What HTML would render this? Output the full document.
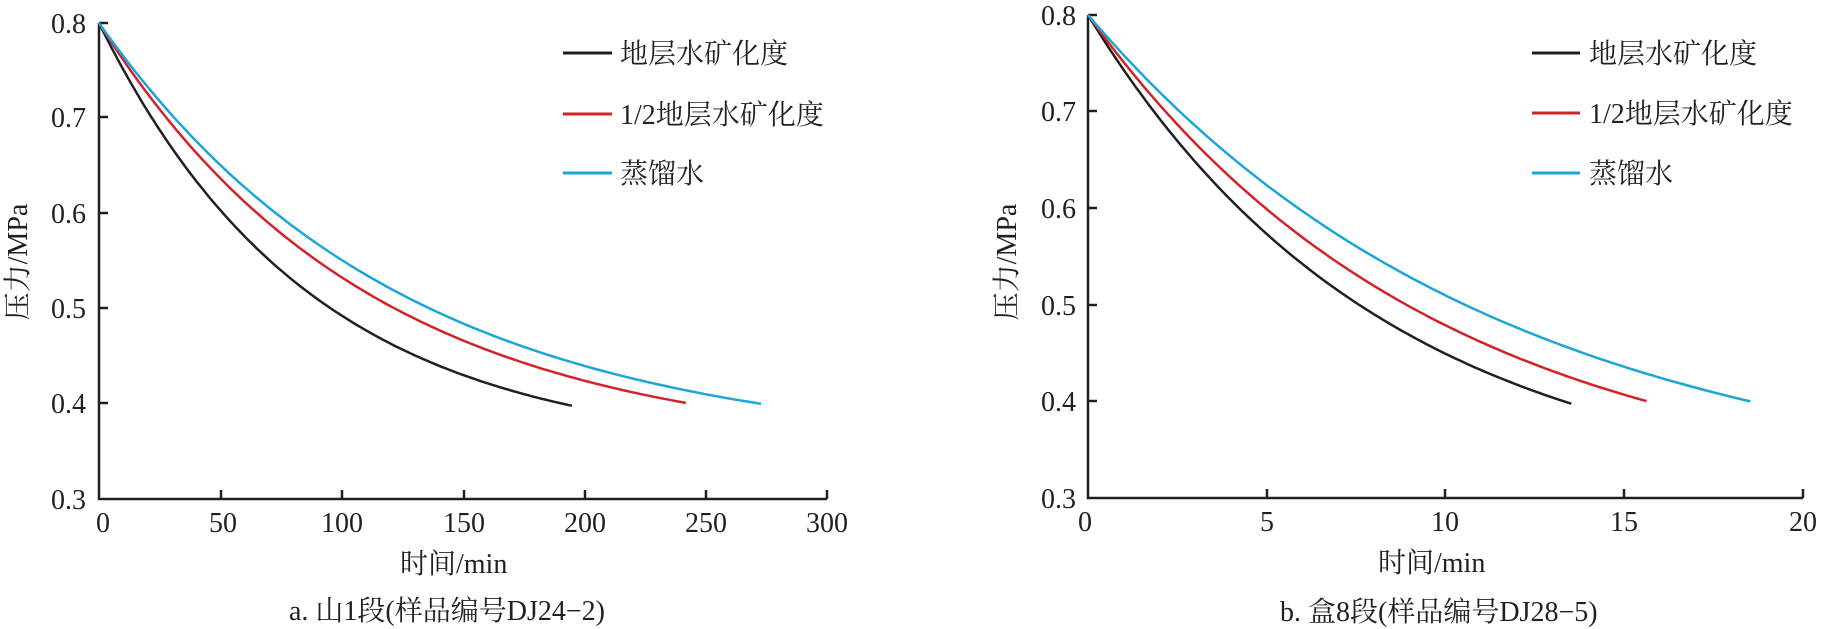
<!DOCTYPE html>
<html><head><meta charset="utf-8">
<style>
html,body{margin:0;padding:0;background:#fff;}
svg{display:block;}
text{font-family:"Liberation Serif","Noto Serif CJK SC",serif;font-size:28px;fill:#231f20;}
</style></head>
<body>
<svg id="s" width="1822" height="629" viewBox="0 0 1822 629" xmlns="http://www.w3.org/2000/svg">
<g stroke="#231f20" stroke-width="2.5" fill="none">
<polyline points="99,23 99,499 827,499"/>
<line x1="99" y1="23" x2="108" y2="23"/><line x1="99" y1="117" x2="108" y2="117"/>
<line x1="99" y1="213" x2="108" y2="213"/><line x1="99" y1="308" x2="108" y2="308"/>
<line x1="99" y1="403" x2="108" y2="403"/>
<line x1="221" y1="499" x2="221" y2="490"/><line x1="342" y1="499" x2="342" y2="490"/>
<line x1="464" y1="499" x2="464" y2="490"/><line x1="585" y1="499" x2="585" y2="490"/>
<line x1="706" y1="499" x2="706" y2="490"/><line x1="827" y1="499" x2="827" y2="490"/>
<polyline points="1088,15 1088,498 1803,498"/>
<line x1="1088" y1="15" x2="1097" y2="15"/><line x1="1088" y1="111" x2="1097" y2="111"/>
<line x1="1088" y1="208" x2="1097" y2="208"/><line x1="1088" y1="305" x2="1097" y2="305"/>
<line x1="1088" y1="401" x2="1097" y2="401"/>
<line x1="1267" y1="498" x2="1267" y2="489"/><line x1="1445" y1="498" x2="1445" y2="489"/>
<line x1="1624" y1="498" x2="1624" y2="489"/><line x1="1803" y1="498" x2="1803" y2="489"/>
</g>
<g id="curves" fill="none" stroke-width="2.5"></g>
<g stroke-width="3">
<line x1="563" y1="53" x2="612" y2="53" stroke="#231f20"/>
<line x1="563" y1="114" x2="612" y2="114" stroke="#d2232a"/>
<line x1="563" y1="173" x2="612" y2="173" stroke="#1ba6d8"/>
<line x1="1532" y1="53" x2="1580" y2="53" stroke="#231f20"/>
<line x1="1532" y1="113" x2="1580" y2="113" stroke="#d2232a"/>
<line x1="1532" y1="173" x2="1580" y2="173" stroke="#1ba6d8"/>
</g>
<text x="620" y="63">地层水矿化度</text>
<text x="620" y="124">1/2地层水矿化度</text>
<text x="620" y="183">蒸馏水</text>
<text x="1589" y="63">地层水矿化度</text>
<text x="1589" y="123">1/2地层水矿化度</text>
<text x="1589" y="183">蒸馏水</text>
<g text-anchor="end">
<text x="86" y="33">0.8</text><text x="86" y="127">0.7</text><text x="86" y="223">0.6</text>
<text x="86" y="318">0.5</text><text x="86" y="413">0.4</text><text x="86" y="509">0.3</text>
<text x="1076" y="25">0.8</text><text x="1076" y="121">0.7</text><text x="1076" y="218">0.6</text>
<text x="1076" y="315">0.5</text><text x="1076" y="411">0.4</text><text x="1076" y="508">0.3</text>
</g>
<g text-anchor="middle">
<text x="103" y="532">0</text><text x="223" y="532">50</text><text x="342" y="532">100</text>
<text x="464" y="532">150</text><text x="585" y="532">200</text><text x="706" y="532">250</text><text x="827" y="532">300</text>
<text x="1085" y="531">0</text><text x="1267" y="531">5</text><text x="1445" y="531">10</text>
<text x="1624" y="531">15</text><text x="1803" y="531">20</text>
</g>
<text x="400" y="573">时间/min</text>
<text x="1378" y="572">时间/min</text>
<text x="289" y="620">a. 山1段(样品编号DJ24−2)</text>
<text x="1280" y="621">b. 盒8段(样品编号DJ28−5)</text>
<text transform="translate(27,262) rotate(-90)" text-anchor="middle">压力/MPa</text>
<text transform="translate(1016,262) rotate(-90)" text-anchor="middle">压力/MPa</text>
</svg>
<script>
(function(){
var g=document.getElementById('curves');
function curve(x0,sx,y0,sy,a,k,tEnd,col){
  var pts=[];
  for(var i=0;i<=120;i++){var t=tEnd*i/120;var p=a+(0.8-a)*Math.exp(-k*t);
    pts.push((x0+sx*t).toFixed(1)+','+(y0-(p-0.3)*sy).toFixed(1));}
  var pl=document.createElementNS('http://www.w3.org/2000/svg','polyline');
  pl.setAttribute('points',pts.join(' '));pl.setAttribute('stroke',col);g.appendChild(pl);
}
curve(99,2.425,499,952,0.35,0.01148,195,'#231f20');
curve(99,2.425,499,952,0.35,0.0090,242,'#d2232a');
curve(99,2.425,499,952,0.35,0.00805,273,'#1ba6d8');
curve(1088,35.8,498,966,0.3,0.121,13.5,'#231f20');
curve(1088,35.8,498,966,0.3,0.103,15.6,'#d2232a');
curve(1088,35.8,498,966,0.3,0.087,18.5,'#1ba6d8');
})();
</script>
</body></html>
